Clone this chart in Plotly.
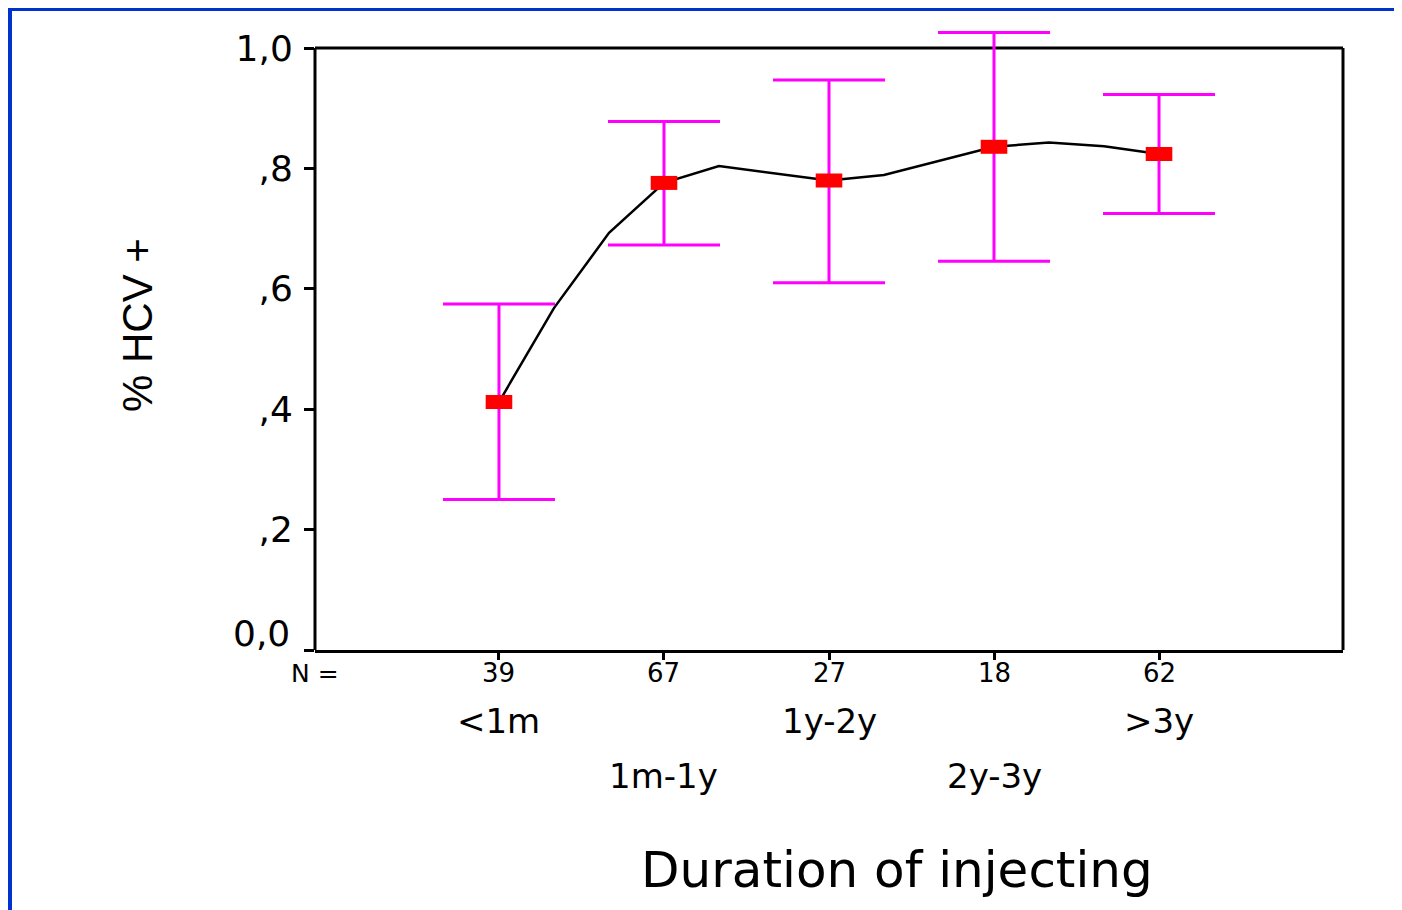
import plotly.graph_objects as go

# ---- data ----
categories = ["<1m", "1m-1y", "1y-2y", "2y-3y", ">3y"]
counts = ["39", "67", "27", "18", "62"]
means = [0.412, 0.776, 0.780, 0.836, 0.824]
upper = [0.575, 0.878, 0.947, 1.026, 0.923]
lower = [0.250, 0.673, 0.610, 0.646, 0.725]

# smoothed fit line (positions in category units, 1 = first category)
fit_x = [1, 1.333, 1.667, 2, 2.333, 2.667, 3, 3.333, 3.667, 4, 4.333, 4.667, 5]
fit_y = [0.412, 0.568, 0.693, 0.776, 0.804, 0.792, 0.780, 0.789, 0.812, 0.836, 0.843, 0.837, 0.824]

ytick_vals = [0.0, 0.2, 0.4, 0.6, 0.8, 1.0]
ytick_text = ["0,0", ",2", ",4", ",6", ",8", "1,0"]

pos = list(range(1, len(categories) + 1))

Y_TOP = 1.04  # headroom so the tallest error bar is not clipped
W, H = 1402, 910
L, R, B = 307, 67, 268
PH0 = 602                       # pixel height of 0..1.0
T = 40 - round((Y_TOP - 1.0) * PH0)
PW, PH = W - L - R, H - T - B

fig = go.Figure()

fig.add_trace(go.Scatter(
    x=fit_x, y=fit_y, mode="lines",
    line=dict(color="black", width=2.5),
    hoverinfo="skip", showlegend=False, cliponaxis=False,
))

fig.add_trace(go.Scatter(
    x=pos, y=means, mode="markers",
    marker=dict(symbol="line-ew", size=19, color="#FF0000",
                line=dict(color="#FF0000", width=14)),
    error_y=dict(type="data", symmetric=False,
                 array=[u - m for u, m in zip(upper, means)],
                 arrayminus=[m - l for m, l in zip(means, lower)],
                 color="#FF00FF", thickness=3, width=56),
    showlegend=False, cliponaxis=False,
))

annotations = []
cnt_y = -23 / PH
row1_y = -71 / PH
row2_y = -126 / PH
annotations.append(dict(x=0, y=cnt_y, xref="paper", yref="paper", text="N =",
                        showarrow=False, font=dict(family="DejaVu Sans", size=25, color="black"),
                        xanchor="center", yanchor="middle"))
for p, c in zip(pos, counts):
    annotations.append(dict(x=p, y=cnt_y, xref="x", yref="paper", text=c,
                            showarrow=False, font=dict(family="DejaVu Sans", size=26, color="black"),
                            xanchor="center", yanchor="middle"))
for i, (p, cat) in enumerate(zip(pos, categories)):
    yy = row1_y if i % 2 == 0 else row2_y
    annotations.append(dict(x=p, y=yy, xref="x", yref="paper",
                            text=cat.replace("<", "&lt;").replace(">", "&gt;"),
                            showarrow=False, font=dict(family="DejaVu Sans", size=34, color="black"),
                            xanchor="center", yanchor="middle"))

# the lowest y tick label sits a little above its tick, as in the original
annotations.append(dict(x=-23 / PW, y=ytick_vals[0], xref="paper", yref="y",
                        text=ytick_text[0], showarrow=False, yshift=17,
                        font=dict(family="DejaVu Sans", size=36, color="black"),
                        xanchor="right", yanchor="middle"))

annotations.append(dict(x=(897 - 8 - L) / PW, y=-(870 - 650) / PH, xref="paper", yref="paper",
                        text="Duration of injecting", showarrow=False,
                        font=dict(family="DejaVu Sans", size=50, color="black"),
                        xanchor="center", yanchor="middle"))
annotations.append(dict(x=(137 - 8 - L) / PW, y=(650 - 325) / PH, xref="paper", yref="paper",
                        text="% HCV +", textangle=-90, showarrow=False,
                        font=dict(family="Liberation Sans", size=42, color="black"),
                        xanchor="center", yanchor="middle"))

shapes = [
    # frame of the plot box (top and right edges stop at 1.0)
    dict(type="line", xref="paper", yref="y", x0=0, x1=1, y0=1.0, y1=1.0,
         line=dict(color="black", width=3), layer="below"),
    dict(type="line", xref="paper", yref="y", x0=1, x1=1, y0=0, y1=1.0,
         line=dict(color="black", width=3), layer="below"),
    dict(type="line", xref="paper", yref="y", x0=0, x1=0, y0=0, y1=1.0,
         line=dict(color="black", width=3), layer="below"),
    # decorative blue slide frame (top and left)
    dict(type="rect", xref="paper", yref="paper", x0=-L / PW, x1=-(L - 4) / PW,
         y0=-B / PH, y1=1 + T / PH, fillcolor="#0033CC", line=dict(width=0), layer="above"),
    dict(type="rect", xref="paper", yref="paper", x0=-L / PW, x1=1 + R / PW,
         y0=1 + (T - 3) / PH, y1=1 + T / PH, fillcolor="#0033CC", line=dict(width=0), layer="above"),
]

fig.update_layout(
    width=W, height=H,
    margin=dict(l=L, r=R, t=T, b=B, pad=0),
    paper_bgcolor="white", plot_bgcolor="white",
    font=dict(family="DejaVu Sans", color="black"),
    annotations=annotations,
    shapes=shapes,
    xaxis=dict(range=[-0.115, 6.115], showgrid=False, zeroline=False,
               showline=True, linecolor="black", linewidth=3, mirror=False,
               tickmode="array", tickvals=pos, ticks="outside", ticklen=7,
               tickwidth=3, tickcolor="black", showticklabels=False),
    yaxis=dict(range=[0, Y_TOP], showgrid=False, zeroline=False,
               showline=False,
               tickmode="array", tickvals=ytick_vals,
               ticktext=[""] + ytick_text[1:],
               ticks="outside", ticklen=10, tickwidth=3, tickcolor="black",
               tickfont=dict(family="DejaVu Sans", size=36, color="black"),
               ticklabelstandoff=4),
)

fig.write_html("out.html")
